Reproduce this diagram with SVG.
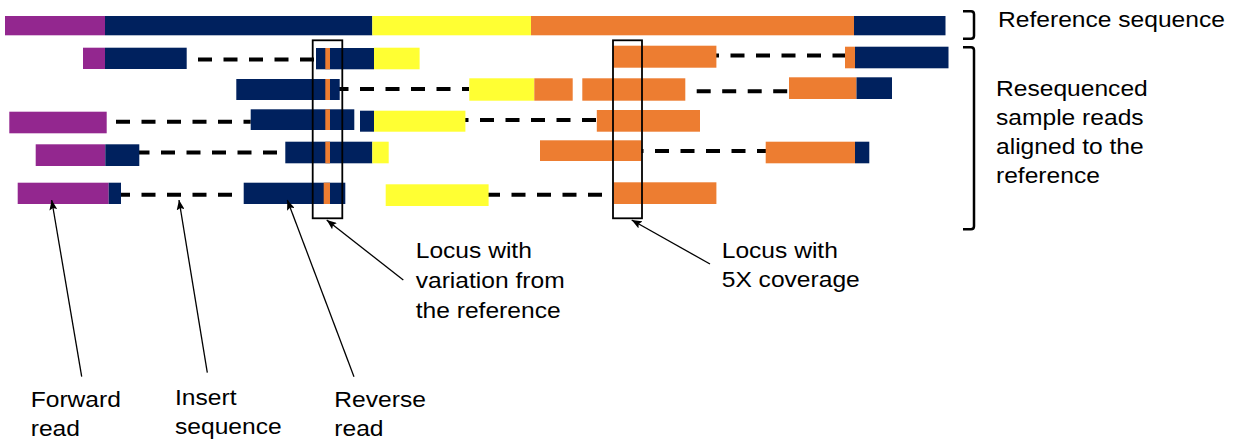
<svg xmlns="http://www.w3.org/2000/svg" width="1237" height="440" viewBox="0 0 1237 440">
<style>
.p{fill:#93278F}
.n{fill:#00215E}
.y{fill:#FFFF33}
.o{fill:#ED7D31}
.d{stroke:#000;stroke-width:4;stroke-dasharray:14 11.5;fill:none}
.box{fill:none;stroke:#000;stroke-width:1.8}
.br{fill:none;stroke:#000;stroke-width:2.5;stroke-linejoin:round}
.a{stroke:#000;stroke-width:1.3;fill:none;marker-end:url(#ah)}
.t{font-family:"Liberation Sans",Arial,Helvetica,sans-serif;font-size:22px;fill:#000}
</style>
<defs>
<marker id="ah" viewBox="0 0 10 8" refX="10" refY="4" markerWidth="10" markerHeight="8" markerUnits="userSpaceOnUse" orient="auto">
<path d="M0,0 L10,4 L0,8 L2,4 z" fill="#000"/>
</marker>
</defs>
<rect width="1237" height="440" fill="#fff"/>

<g id="reference-sequence">
<rect class="p" x="5" y="16" width="100" height="19.3"/>
<rect class="n" x="105" y="16" width="267.3" height="19.3"/>
<rect class="y" x="372.3" y="16" width="158.7" height="19.3"/>
<rect class="o" x="531" y="16" width="323" height="19.3"/>
<rect class="n" x="854" y="16" width="91.5" height="19.3"/>
</g>

<g id="read-row-1">
<line class="d" x1="198" y1="59.5" x2="316" y2="59.5"/>
<line class="d" x1="705" y1="55.5" x2="846" y2="55.5"/>
<rect class="p" x="83" y="47.7" width="22" height="21.3"/>
<rect class="n" x="105" y="47.7" width="81.7" height="21.3"/>
<rect class="n" x="316" y="48" width="58" height="21.3"/>
<rect class="o" x="325.3" y="48" width="4.7" height="21.3"/>
<rect class="y" x="374" y="47.7" width="45.6" height="21.6"/>
<rect class="o" x="613" y="45.7" width="103.4" height="22"/>
<rect class="o" x="845" y="46.7" width="10" height="21.6"/>
<rect class="n" x="855" y="46.7" width="93.5" height="21.6"/>
</g>

<g id="read-row-2">
<line class="d" x1="334.5" y1="89" x2="469" y2="89"/>
<line class="d" x1="696.7" y1="91.3" x2="789" y2="91.3"/>
<rect class="n" x="236.3" y="79" width="103.4" height="21"/>
<rect class="o" x="325.3" y="79" width="4.7" height="21"/>
<rect class="y" x="469.3" y="78.3" width="65" height="22.4"/>
<rect class="o" x="534.3" y="78.3" width="38.4" height="22.4"/>
<rect class="o" x="582.3" y="78.3" width="103" height="22.4"/>
<rect class="o" x="789" y="77.3" width="67.5" height="21.7"/>
<rect class="n" x="856.5" y="77.3" width="35.5" height="21.7"/>
</g>

<g id="read-row-3">
<line class="d" x1="116" y1="121.7" x2="250.7" y2="121.7"/>
<line class="d" x1="454.5" y1="120" x2="597" y2="120"/>
<rect class="p" x="9.3" y="111.7" width="97.4" height="21.6"/>
<rect class="n" x="250.7" y="109.3" width="103.6" height="20.7"/>
<rect class="o" x="325.3" y="109.3" width="4.7" height="20.7"/>
<rect class="n" x="360" y="110.7" width="14" height="21"/>
<rect class="y" x="374" y="110.7" width="91.4" height="21"/>
<rect class="o" x="596.8" y="110" width="103.2" height="21.7"/>
</g>

<g id="read-row-4">
<line class="d" x1="135.5" y1="152.5" x2="278.3" y2="152.5"/>
<line class="d" x1="629.5" y1="151" x2="766" y2="151"/>
<rect class="p" x="35.7" y="144.3" width="69.6" height="21.7"/>
<rect class="n" x="105.3" y="144.3" width="34" height="21.7"/>
<rect class="n" x="285.3" y="141.7" width="87" height="21.6"/>
<rect class="o" x="325.3" y="141.7" width="4.7" height="21.6"/>
<rect class="y" x="372.3" y="141.7" width="16.4" height="21.6"/>
<rect class="o" x="540" y="140.3" width="101.7" height="20.7"/>
<rect class="o" x="765.7" y="141.7" width="89.3" height="21.6"/>
<rect class="n" x="855" y="141.7" width="14.3" height="21.6"/>
</g>

<g id="read-row-5">
<line class="d" x1="116" y1="194.7" x2="232.3" y2="194.7"/>
<line class="d" x1="486" y1="194.7" x2="602" y2="194.7"/>
<rect class="p" x="17.7" y="182.7" width="91" height="21.3"/>
<rect class="n" x="108.7" y="182.7" width="12.3" height="21.3"/>
<rect class="n" x="243.7" y="182.7" width="101.6" height="21.3"/>
<rect class="o" x="323.7" y="182.7" width="6.3" height="21.3"/>
<rect class="y" x="385.7" y="184.3" width="102.9" height="21.7"/>
<rect class="o" x="613.6" y="182.3" width="102.8" height="21.7"/>
</g>

<g id="locus-variation-box">
<rect class="box" x="312.7" y="40.3" width="29.6" height="178"/>
</g>
<g id="locus-coverage-box">
<rect class="box" x="613" y="40.3" width="29" height="178"/>
</g>

<g id="brackets">
<path class="br" d="M963,11.3 H971 Q974,11.3 974,14.3 V35.7 Q974,38.7 971,38.7 H963"/>
<path class="br" d="M963,47.3 H971 Q974,47.3 974,50.3 V226.3 Q974,229.3 971,229.3 H963"/>
</g>

<g id="connectors">
<line class="a" x1="81.7" y1="376.7" x2="51.7" y2="200"/>
<line class="a" x1="207.3" y1="372.7" x2="179" y2="200"/>
<line class="a" x1="354" y1="376.7" x2="287.3" y2="200"/>
<line class="a" x1="403.3" y1="280" x2="326.7" y2="220"/>
<line class="a" x1="710" y1="264" x2="631.7" y2="220"/>
</g>

<g id="label-reference-sequence">
<text class="t" transform="translate(998,27) scale(1.118,1)">Reference sequence</text>
</g>
<g id="label-resequenced">
<text class="t" transform="translate(996,96) scale(1.118,1)"><tspan x="0" y="0">Resequenced</tspan><tspan x="0" y="29">sample reads</tspan><tspan x="0" y="58">aligned to the</tspan><tspan x="0" y="87">reference</tspan></text>
</g>
<g id="label-locus-variation">
<text class="t" transform="translate(415.7,258.3) scale(1.118,1)"><tspan x="0" y="0">Locus with</tspan><tspan x="0" y="29.5">variation from</tspan><tspan x="0" y="59.5">the reference</tspan></text>
</g>
<g id="label-locus-coverage">
<text class="t" transform="translate(721.7,258.3) scale(1.118,1)"><tspan x="0" y="0">Locus with</tspan><tspan x="0" y="29">5X coverage</tspan></text>
</g>
<g id="label-forward-read">
<text class="t" transform="translate(30.7,406.7) scale(1.118,1)"><tspan x="0" y="0">Forward</tspan><tspan x="0" y="29">read</tspan></text>
</g>
<g id="label-insert-sequence">
<text class="t" transform="translate(175,405) scale(1.118,1)"><tspan x="0" y="0">Insert</tspan><tspan x="0" y="29">sequence</tspan></text>
</g>
<g id="label-reverse-read">
<text class="t" transform="translate(334.3,406.7) scale(1.118,1)"><tspan x="0" y="0">Reverse</tspan><tspan x="0" y="29">read</tspan></text>
</g>
</svg>
